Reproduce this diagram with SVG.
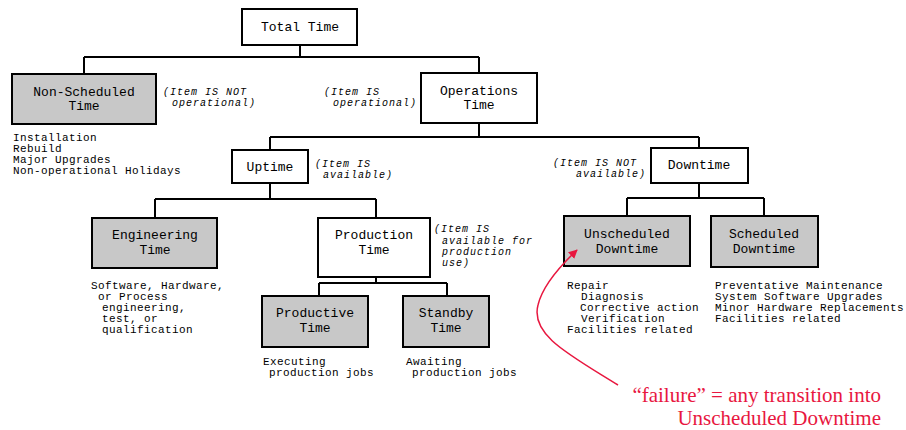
<svg xmlns="http://www.w3.org/2000/svg" width="906" height="430" viewBox="0 0 906 430">
  <defs>
    <style>
      .box { fill: #ffffff; stroke: #000; stroke-width: 2; }
      .shade { fill: #c8c8c8; stroke: #000; stroke-width: 2; }
      .lbl { font-family: "Liberation Mono", "Courier New", monospace; font-size: 13px; fill: #000; text-anchor: middle; }
      .note { font-family: "Liberation Mono", "Courier New", monospace; font-size: 10px; font-style: italic; letter-spacing: 1px; fill: #000; }
      .desc { font-family: "Liberation Mono", "Courier New", monospace; font-size: 11px; letter-spacing: 0.4px; fill: #000; }
      .wire { fill: none; stroke: #000; stroke-width: 2; }
      .red { font-family: "Liberation Serif", "Times New Roman", serif; font-size: 21px; fill: #e8173f; text-anchor: end; }
    </style>
    <marker id="redhead" viewBox="0 0 10 10" refX="9" refY="5" markerWidth="9" markerHeight="9" markerUnits="userSpaceOnUse" orient="auto">
      <path d="M0,0 L10,5 L0,10 z" fill="#e8173f"/>
    </marker>
  </defs>

  <!-- tree connectors -->
  <g id="connectors" class="wire">
    <path d="M300,45 V57 M84,57 H479 M84,57 V74 M479,57 V73"/>
    <path d="M479,123 V137 M270,137 H699 M270,137 V150 M699,137 V148"/>
    <path d="M270,183 V199 M155,199 H376 M155,199 V218 M376,199 V218"/>
    <path d="M376,277 V283 M319,283 H447 M319,283 V296 M447,283 V296"/>
    <path d="M699,183 V198 M627,198 H764 M627,198 V216 M764,198 V216"/>
  </g>

  <g id="total-time">
    <rect class="box" x="242" y="9" width="115" height="36"/>
    <text class="lbl" x="300" y="31">Total Time</text>
  </g>

  <g id="non-scheduled-time">
    <rect class="shade" x="12" y="74" width="144" height="50"/>
    <text class="lbl" x="84" y="96">Non-Scheduled</text>
    <text class="lbl" x="84" y="110">Time</text>
    <text class="note" x="163" y="95">(Item IS NOT</text>
    <text class="note" x="172" y="106">operational)</text>
    <text class="desc" x="13" y="141">Installation</text>
    <text class="desc" x="13" y="152">Rebuild</text>
    <text class="desc" x="13" y="163">Major Upgrades</text>
    <text class="desc" x="13" y="174">Non-operational Holidays</text>
  </g>

  <g id="operations-time">
    <rect class="box" x="421" y="73" width="116" height="50"/>
    <text class="lbl" x="479" y="95">Operations</text>
    <text class="lbl" x="479" y="109">Time</text>
    <text class="note" x="324" y="95">(Item IS</text>
    <text class="note" x="333" y="106">operational)</text>
  </g>

  <g id="uptime">
    <rect class="box" x="232" y="150" width="76" height="33"/>
    <text class="lbl" x="270" y="171">Uptime</text>
    <text class="note" x="315" y="167">(Item IS</text>
    <text class="note" x="323" y="178">available)</text>
  </g>

  <g id="downtime">
    <rect class="box" x="651" y="148" width="97" height="35"/>
    <text class="lbl" x="699" y="169">Downtime</text>
    <text class="note" x="553" y="166">(Item IS NOT</text>
    <text class="note" x="576" y="177">available)</text>
  </g>

  <g id="engineering-time">
    <rect class="shade" x="92" y="218" width="125" height="50"/>
    <text class="lbl" x="155" y="239">Engineering</text>
    <text class="lbl" x="155" y="254">Time</text>
    <text class="desc" x="91" y="289">Software, Hardware,</text>
    <text class="desc" x="98" y="300">or Process</text>
    <text class="desc" x="102" y="311">engineering,</text>
    <text class="desc" x="102" y="322">test, or</text>
    <text class="desc" x="102" y="333">qualification</text>
  </g>

  <g id="production-time">
    <rect class="box" x="318" y="218" width="112" height="59"/>
    <text class="lbl" x="374" y="239">Production</text>
    <text class="lbl" x="374" y="254">Time</text>
    <text class="note" x="434" y="232">(Item IS</text>
    <text class="note" x="442" y="244">available for</text>
    <text class="note" x="442" y="255">production</text>
    <text class="note" x="442" y="266">use)</text>
  </g>

  <g id="productive-time">
    <rect class="shade" x="262" y="296" width="106" height="51"/>
    <text class="lbl" x="315" y="317">Productive</text>
    <text class="lbl" x="315" y="332">Time</text>
    <text class="desc" x="263" y="365">Executing</text>
    <text class="desc" x="269" y="376">production jobs</text>
  </g>

  <g id="standby-time">
    <rect class="shade" x="403" y="296" width="86" height="51"/>
    <text class="lbl" x="446" y="317">Standby</text>
    <text class="lbl" x="446" y="332">Time</text>
    <text class="desc" x="406" y="365">Awaiting</text>
    <text class="desc" x="412" y="376">production jobs</text>
  </g>

  <g id="unscheduled-downtime">
    <rect class="shade" x="564" y="216" width="126" height="50"/>
    <text class="lbl" x="627" y="238">Unscheduled</text>
    <text class="lbl" x="627" y="253">Downtime</text>
    <text class="desc" x="567" y="289">Repair</text>
    <text class="desc" x="581" y="300">Diagnosis</text>
    <text class="desc" x="580" y="311">Corrective action</text>
    <text class="desc" x="581" y="322">Verification</text>
    <text class="desc" x="567" y="333">Facilities related</text>
  </g>

  <g id="scheduled-downtime">
    <rect class="shade" x="711" y="216" width="107" height="51"/>
    <text class="lbl" x="764" y="238">Scheduled</text>
    <text class="lbl" x="764" y="253">Downtime</text>
    <text class="desc" x="715" y="289">Preventative Maintenance</text>
    <text class="desc" x="715" y="300">System Software Upgrades</text>
    <text class="desc" x="715" y="311">Minor Hardware Replacements</text>
    <text class="desc" x="715" y="322">Facilities related</text>
  </g>

  <!-- failure annotation -->
  <g id="failure-note">
    <path d="M618,385 C570,355 530,335 538,305 C542,288 558,268 577,250" fill="none" stroke="#e8173f" stroke-width="1.5" marker-end="url(#redhead)"/>
    <text class="red" x="881" y="402">“failure” = any transition into</text>
    <text class="red" x="881" y="425">Unscheduled Downtime</text>
  </g>
</svg>
